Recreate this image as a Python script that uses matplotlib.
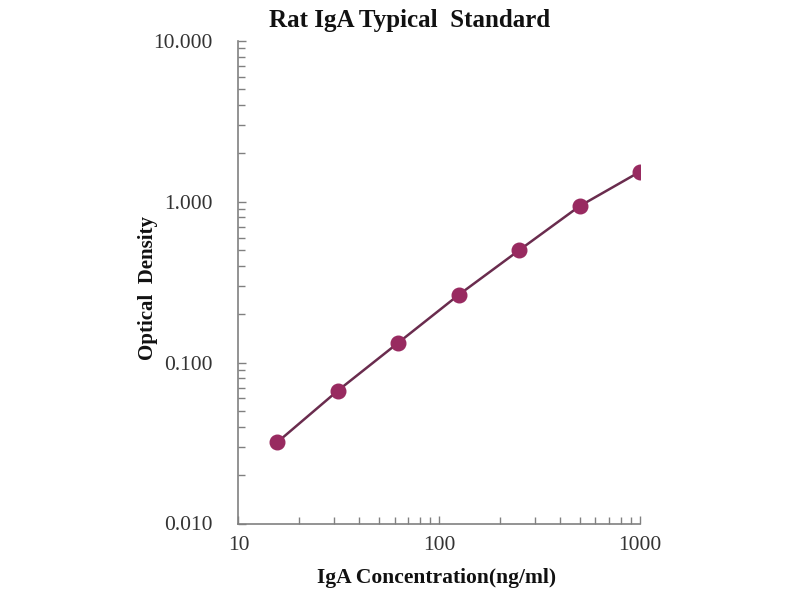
import matplotlib
matplotlib.use("Agg")
import matplotlib.pyplot as plt
from matplotlib.ticker import FixedLocator, FuncFormatter, LogLocator, NullFormatter

concentration = [15.6, 31.25, 62.5, 125, 250, 500, 1000]
optical_density = [0.032, 0.067, 0.133, 0.264, 0.50, 0.94, 1.54]
x_ticks = [10, 100, 1000]
y_ticks = [0.01, 0.1, 1, 10]

plt.rcParams['font.family'] = ['Liberation Serif', 'DejaVu Serif']

fig = plt.figure(figsize=(8, 6), dpi=100)
ax = fig.add_axes([238.5 / 800, 1 - 523.5 / 600, (640 - 238.5) / 800, (523.5 - 41) / 600])

ax.plot(concentration, optical_density, color='#6a2c4e', linewidth=1.8, zorder=2)
ax.plot(concentration, optical_density, linestyle='none', marker='o', markersize=10.5,
        color='#982a60', markeredgecolor='#982a60', zorder=3)

ax.set_xscale('log')
ax.set_yscale('log')
ax.set_xlim(10, 1000)
ax.set_ylim(0.01, 10)

ax.xaxis.set_major_locator(FixedLocator(x_ticks))
ax.yaxis.set_major_locator(FixedLocator(y_ticks))
ax.xaxis.set_major_formatter(FuncFormatter(lambda v, p: f"{v:g}"))
ax.yaxis.set_major_formatter(FuncFormatter(lambda v, p: f"{v:.3f}"))
ax.xaxis.set_minor_locator(LogLocator(base=10, subs=range(2, 10)))
ax.yaxis.set_minor_locator(LogLocator(base=10, subs=range(2, 10)))
ax.xaxis.set_minor_formatter(NullFormatter())
ax.yaxis.set_minor_formatter(NullFormatter())

for s in ['top', 'right']:
    ax.spines[s].set_visible(False)
for s in ['left', 'bottom']:
    ax.spines[s].set_color('#808080')
    ax.spines[s].set_linewidth(1.2)

ax.tick_params(axis='both', which='both', direction='in', color='#808080', width=1)
ax.tick_params(axis='both', which='major', length=6, labelsize=15.5, labelcolor='#333333')
ax.tick_params(axis='both', which='minor', length=5)
ax.tick_params(axis='y', which='major', pad=18.5)
ax.tick_params(axis='x', which='major', pad=9)

fig.text(410 / 800, 1 - 20 / 600, 'Rat IgA Typical  Standard', ha='center', va='center',
         fontsize=18, fontweight='bold', color='#111111')
fig.text(148 / 800, 1 - 288 / 600, 'Optical  Density', ha='center', va='center', rotation=90,
         fontsize=15, fontweight='bold', color='#111111')
fig.text(437 / 800, 1 - 578 / 600, 'IgA Concentration(ng/ml)', ha='center', va='center',
         fontsize=15.5, fontweight='bold', color='#111111')

fig.savefig('out.png', dpi=100, facecolor='white')
